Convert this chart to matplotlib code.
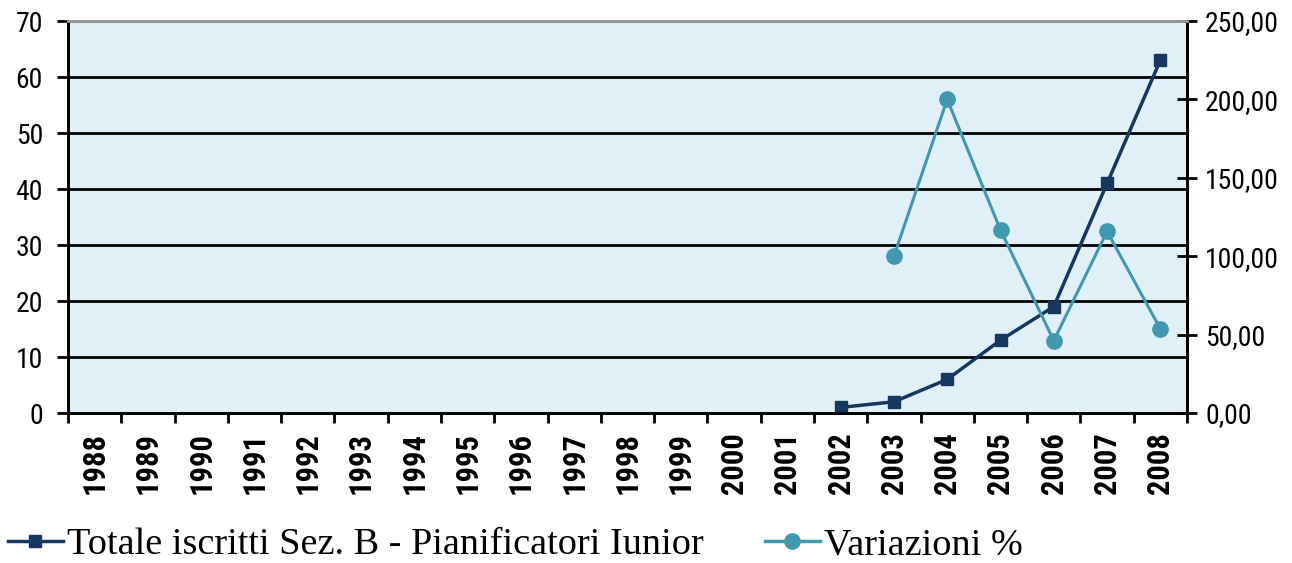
import matplotlib.pyplot as plt
import numpy as np
from matplotlib.lines import Line2D
from matplotlib import font_manager

years = [str(y) for y in range(1988, 2009)]
iscritti_years = ['2002', '2003', '2004', '2005', '2006', '2007', '2008']
iscritti = [1, 2, 6, 13, 19, 41, 63]
var_years = ['2003', '2004', '2005', '2006', '2007', '2008']
variazioni = [100.00, 200.00, 116.67, 46.15, 115.79, 53.66]

navy = '#17375E'
teal = '#4198AF'
bg = '#E1F0F6'

# condensed face for the tick labels if any is around
names = {f.name for f in font_manager.fontManager.ttflist}
cond = [n for n in ['Liberation Sans Narrow', 'DejaVu Sans Condensed', 'Roboto Condensed'] if n in names]
tick_family = cond[:1] + ['DejaVu Sans']

fig = plt.figure(figsize=(12.92, 5.63), dpi=100)
ax = fig.add_axes([68/1292, 1-413/563, (1187-68)/1292, (413-21)/563])
ax2 = ax.twinx()
ax.set_zorder(ax2.get_zorder() - 1)
ax2.patch.set_visible(False)
ax.set_facecolor(bg)

xi = [years.index(y) for y in iscritti_years]
xv = [years.index(y) for y in var_years]

ax.plot(xi, iscritti, color=navy, lw=2.5, marker='s', ms=9, zorder=3)
ax2.plot(xv, variazioni, color=teal, lw=2.2, marker='o', ms=11, zorder=3)

ax.set_xlim(-0.5, len(years) - 0.5)
ax.set_ylim(0, 70)
ax2.set_ylim(0, 250)
ax.set_yticks(range(0, 71, 10))
ax2.set_yticks(range(0, 251, 50))
ax2.set_yticklabels([f'{v},00' for v in range(0, 251, 50)])

ax.set_xticks(range(len(years)))
ax.set_xticklabels(years, rotation=90, fontweight='bold', family=tick_family,
                   fontstretch='condensed', size=22)
ax.set_xticks(np.arange(-0.5, len(years), 1), minor=True)
ax.tick_params(axis='x', which='major', length=0, pad=14)
ax.tick_params(axis='x', which='minor', length=7, width=2, direction='out')

for t in ax.get_yticklabels() + ax2.get_yticklabels():
    t.set_fontfamily(tick_family)
    t.set_fontstretch('condensed')
    t.set_fontsize(20)
ax.tick_params(axis='y', length=8, width=2, direction='out', pad=10)
ax2.tick_params(axis='y', length=14, width=2, direction='inout', pad=6)

ax.grid(axis='y', color='black', lw=2)
ax.set_axisbelow(True)

for a in (ax, ax2):
    a.spines['top'].set_color('#999999')
    for s in ('top', 'left', 'right', 'bottom'):
        a.spines[s].set_linewidth(2)

handles = [Line2D([], [], color=navy, lw=2.5, marker='s', ms=9),
           Line2D([], [], color=teal, lw=2.5, marker='o', ms=11)]
labels = ['Totale iscritti Sez. B - Pianificatori Iunior', 'Variazioni %']
fig.legend(handles, labels, loc='center left', bbox_to_anchor=(0.0, 1 - 545/563), ncol=2,
           frameon=False, handlelength=1.45, handletextpad=0.1, columnspacing=1.6,
           borderaxespad=0, borderpad=0.2,
           prop=dict(family='Liberation Serif', size=27.5))

fig.savefig('out.png', dpi=100)
